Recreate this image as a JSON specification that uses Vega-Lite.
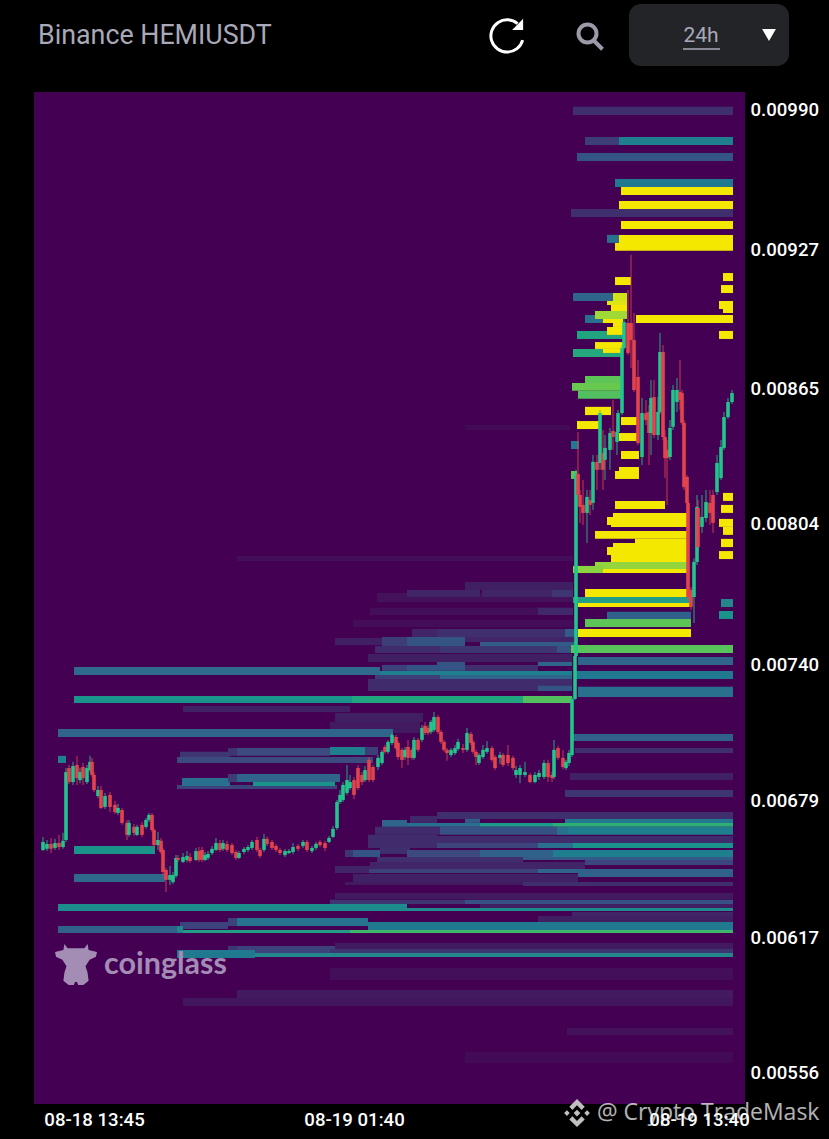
{"$schema":"https://vega.github.io/schema/vega-lite/v6.json","autosize":{"type":"none"},"padding":{"left":34,"top":92,"right":84,"bottom":35},"width":711,"height":1012,"background":"#000000","view":{"fill":"#440154","stroke":null},"config":{"axis":{"grid":false,"domain":false,"ticks":false,"title":null}},"resolve":{"axis":{"x":"independent","y":"independent"}},
"datasets":{"heat":[
{"a":406,"b":1078,"p":0.00789,"q":0.007867,"v":0.05},{"a":862,"b":1072,"p":0.00848,"q":0.008458,"v":0.03},{"a":686,"b":1078,"p":0.007723,"q":0.007683,"v":0.06},{"a":862,"b":1078,"p":0.007773,"q":0.007737,"v":0.12},{"a":746,"b":892,"p":0.007737,"q":0.007705,"v":0.15},{"a":896,"b":1036,"p":0.007737,"q":0.007705,"v":0.15},{"a":1036,"b":1078,"p":0.007737,"q":0.007705,"v":0.22},{"a":672,"b":1078,"p":0.007656,"q":0.007624,"v":0.05},{"a":1008,"b":1078,"p":0.007656,"q":0.007624,"v":0.17},{"a":638,"b":1078,"p":0.007601,"q":0.00757,"v":0.04},{"a":756,"b":806,"p":0.007561,"q":0.007525,"v":0.15},{"a":806,"b":1062,"p":0.007561,"q":0.007525,"v":0.2},{"a":1062,"b":1082,"p":0.007561,"q":0.007525,"v":0.35},{"a":602,"b":696,"p":0.00752,"q":0.007489,"v":0.12},{"a":696,"b":746,"p":0.007525,"q":0.007484,"v":0.25},{"a":746,"b":862,"p":0.007525,"q":0.007484,"v":0.33},{"a":862,"b":1082,"p":0.007525,"q":0.007502,"v":0.15},{"a":892,"b":1082,"p":0.007502,"q":0.007484,"v":0.35},{"a":682,"b":812,"p":0.007484,"q":0.007453,"v":0.18},{"a":812,"b":1046,"p":0.007484,"q":0.007453,"v":0.22},{"a":1046,"b":1076,"p":0.007484,"q":0.007453,"v":0.32},{"a":668,"b":1076,"p":0.007448,"q":0.007412,"v":0.12},{"a":696,"b":746,"p":0.007399,"q":0.007372,"v":0.27},{"a":746,"b":806,"p":0.007399,"q":0.007372,"v":0.33},{"a":806,"b":862,"p":0.007412,"q":0.007372,"v":0.33},{"a":862,"b":1008,"p":0.007399,"q":0.007372,"v":0.2},{"a":1008,"b":1076,"p":0.007412,"q":0.007394,"v":0.38},{"a":682,"b":978,"p":0.007354,"q":0.007336,"v":0.25},{"a":812,"b":1076,"p":0.007354,"q":0.007336,"v":0.38},{"a":668,"b":1076,"p":0.007336,"q":0.007281,"v":0.18},{"a":1008,"b":1076,"p":0.007305,"q":0.007281,"v":0.33},{"a":80,"b":692,"p":0.00739,"q":0.007354,"v":0.4},{"a":692,"b":1076,"p":0.007372,"q":0.007354,"v":0.47},{"a":298,"b":632,"p":0.007214,"q":0.007187,"v":0.13},{"a":602,"b":778,"p":0.007182,"q":0.007142,"v":0.12},{"a":592,"b":772,"p":0.007142,"q":0.007092,"v":0.1},{"a":80,"b":636,"p":0.007259,"q":0.007227,"v":0.55},{"a":636,"b":978,"p":0.007259,"q":0.007227,"v":0.63},{"a":978,"b":1076,"p":0.007259,"q":0.007227,"v":0.76},{"a":48,"b":718,"p":0.00711,"q":0.007074,"v":0.38},
{"a":292,"b":392,"p":0.007007,"q":0.006984,"v":0.22},{"a":388,"b":406,"p":0.007024,"q":0.006989,"v":0.22},{"a":406,"b":592,"p":0.007024,"q":0.006989,"v":0.3},{"a":592,"b":662,"p":0.007029,"q":0.006993,"v":0.47},{"a":662,"b":688,"p":0.007029,"q":0.006993,"v":0.25},{"a":286,"b":678,"p":0.006984,"q":0.006957,"v":0.3},{"a":286,"b":606,"p":0.006858,"q":0.00684,"v":0.27},{"a":296,"b":392,"p":0.006889,"q":0.006853,"v":0.42},{"a":388,"b":406,"p":0.006907,"q":0.006871,"v":0.25},{"a":406,"b":612,"p":0.006907,"q":0.006871,"v":0.38},{"a":438,"b":602,"p":0.006871,"q":0.006853,"v":0.55},{"a":80,"b":242,"p":0.006583,"q":0.006547,"v":0.55},{"a":80,"b":262,"p":0.006457,"q":0.00642,"v":0.4},{"a":48,"b":64,"p":0.006989,"q":0.006957,"v":0.47},
{"a":1078,"b":1398,"p":0.007088,"q":0.007056,"v":0.37},{"a":1082,"b":1398,"p":0.007024,"q":0.007002,"v":0.2},{"a":1072,"b":1398,"p":0.006912,"q":0.00688,"v":0.13},{"a":1062,"b":1398,"p":0.006835,"q":0.006804,"v":0.22},
{"a":806,"b":1398,"p":0.006736,"q":0.006705,"v":0.2},{"a":752,"b":806,"p":0.006718,"q":0.006687,"v":0.17},{"a":696,"b":746,"p":0.0067,"q":0.006669,"v":0.38},{"a":862,"b":892,"p":0.006705,"q":0.006687,"v":0.35},{"a":746,"b":892,"p":0.006687,"q":0.006669,"v":0.42},{"a":892,"b":1038,"p":0.006687,"q":0.006669,"v":0.58},{"a":1062,"b":1398,"p":0.006705,"q":0.006687,"v":0.45},{"a":1038,"b":1398,"p":0.006687,"q":0.006669,"v":0.68},{"a":682,"b":812,"p":0.006669,"q":0.006633,"v":0.18},{"a":812,"b":1046,"p":0.006669,"q":0.006633,"v":0.32},{"a":1046,"b":1068,"p":0.006669,"q":0.006633,"v":0.42},{"a":1068,"b":1398,"p":0.006669,"q":0.006633,"v":0.47},{"a":668,"b":806,"p":0.006633,"q":0.006574,"v":0.18},{"a":806,"b":1398,"p":0.006628,"q":0.006596,"v":0.18},{"a":806,"b":1008,"p":0.006596,"q":0.006574,"v":0.28},{"a":1008,"b":1078,"p":0.006596,"q":0.006574,"v":0.42},{"a":1078,"b":1398,"p":0.006596,"q":0.006574,"v":0.55},{"a":692,"b":752,"p":0.006574,"q":0.006547,"v":0.2},{"a":622,"b":638,"p":0.006565,"q":0.006533,"v":0.22},{"a":638,"b":692,"p":0.006565,"q":0.006533,"v":0.33},{"a":746,"b":892,"p":0.006565,"q":0.006533,"v":0.3},{"a":892,"b":1038,"p":0.006565,"q":0.006533,"v":0.37},{"a":1038,"b":1398,"p":0.006565,"q":0.006533,"v":0.47},{"a":686,"b":978,"p":0.006533,"q":0.006511,"v":0.2},{"a":978,"b":1398,"p":0.006533,"q":0.00652,"v":0.35},{"a":672,"b":1102,"p":0.006511,"q":0.006479,"v":0.15},{"a":1102,"b":1398,"p":0.00652,"q":0.006497,"v":0.28},{"a":602,"b":672,"p":0.006493,"q":0.006461,"v":0.15},{"a":670,"b":1008,"p":0.006479,"q":0.006461,"v":0.27},{"a":1008,"b":1088,"p":0.006479,"q":0.006461,"v":0.38},{"a":1088,"b":1398,"p":0.006479,"q":0.006443,"v":0.37},{"a":638,"b":1088,"p":0.006457,"q":0.00642,"v":0.13},{"a":622,"b":978,"p":0.00642,"q":0.006407,"v":0.1},{"a":978,"b":1398,"p":0.00642,"q":0.006403,"v":0.2},{"a":602,"b":1398,"p":0.006371,"q":0.006344,"v":0.1},{"a":592,"b":862,"p":0.00634,"q":0.006321,"v":0.22},{"a":862,"b":1398,"p":0.00634,"q":0.006321,"v":0.32},{"a":892,"b":1398,"p":0.006321,"q":0.006303,"v":0.12},{"a":48,"b":746,"p":0.006321,"q":0.00629,"v":0.52},{"a":746,"b":1398,"p":0.006303,"q":0.00629,"v":0.52},{"a":1076,"b":1398,"p":0.006285,"q":0.006267,"v":0.15},{"a":1008,"b":1398,"p":0.006267,"q":0.00624,"v":0.12},{"a":292,"b":388,"p":0.00624,"q":0.006209,"v":0.27},{"a":388,"b":406,"p":0.006258,"q":0.006222,"v":0.27},{"a":406,"b":668,"p":0.006258,"q":0.006222,"v":0.43},{"a":668,"b":1398,"p":0.00624,"q":0.006204,"v":0.45},{"a":48,"b":286,"p":0.006222,"q":0.006191,"v":0.37},{"a":286,"b":298,"p":0.006222,"q":0.006191,"v":0.5},{"a":298,"b":632,"p":0.006204,"q":0.006191,"v":0.6},{"a":632,"b":1398,"p":0.006204,"q":0.006191,"v":0.72},{"a":602,"b":1398,"p":0.006146,"q":0.006119,"v":0.1},{"a":406,"b":602,"p":0.006132,"q":0.006101,"v":0.27},{"a":388,"b":406,"p":0.006132,"q":0.006101,"v":0.22},{"a":592,"b":1398,"p":0.006119,"q":0.006101,"v":0.22},{"a":286,"b":442,"p":0.006114,"q":0.006078,"v":0.45},{"a":442,"b":1398,"p":0.006101,"q":0.006083,"v":0.5},{"a":592,"b":1398,"p":0.006033,"q":0.005979,"v":0.05},{"a":406,"b":1398,"p":0.005934,"q":0.005898,"v":0.1},{"a":298,"b":1398,"p":0.005898,"q":0.005862,"v":0.08},{"a":1066,"b":1398,"p":0.005763,"q":0.005731,"v":0.06},{"a":862,"b":1398,"p":0.005654,"q":0.005605,"v":0.03},
{"a":1078,"b":1398,"p":0.009914,"q":0.009877,"v":0.2},{"a":1102,"b":1170,"p":0.009778,"q":0.009742,"v":0.25},{"a":1170,"b":1398,"p":0.009778,"q":0.009742,"v":0.47},{"a":1086,"b":1398,"p":0.009706,"q":0.00967,"v":0.33},{"a":1162,"b":1398,"p":0.009589,"q":0.009553,"v":0.45},{"a":1174,"b":1398,"p":0.009553,"q":0.009517,"v":1},{"a":1170,"b":1398,"p":0.00949,"q":0.009454,"v":1},{"a":1074,"b":1398,"p":0.009454,"q":0.009418,"v":0.2},{"a":1174,"b":1398,"p":0.0094,"q":0.009364,"v":1},{"a":1146,"b":1170,"p":0.009337,"q":0.009301,"v":0.42},{"a":1170,"b":1398,"p":0.009337,"q":0.009301,"v":1},{"a":1162,"b":1398,"p":0.009301,"q":0.009265,"v":1},{"a":1162,"b":1194,"p":0.009147,"q":0.009111,"v":1},{"a":1378,"b":1398,"p":0.009165,"q":0.009129,"v":1},{"a":1374,"b":1398,"p":0.009111,"q":0.009075,"v":1},{"a":1370,"b":1398,"p":0.009039,"q":0.009003,"v":1},{"a":1378,"b":1398,"p":0.009003,"q":0.008985,"v":1},{"a":1204,"b":1398,"p":0.008976,"q":0.00894,"v":1},{"a":1370,"b":1398,"p":0.008904,"q":0.008868,"v":1},
{"a":1078,"b":1158,"p":0.009075,"q":0.009039,"v":0.38},{"a":1158,"b":1186,"p":0.009075,"q":0.009039,"v":0.95},{"a":1146,"b":1186,"p":0.009039,"q":0.009021,"v":0.97},{"a":1154,"b":1186,"p":0.009021,"q":0.008985,"v":1},{"a":1102,"b":1138,"p":0.008976,"q":0.00894,"v":0.42},{"a":1138,"b":1178,"p":0.008958,"q":0.00894,"v":1},{"a":1122,"b":1186,"p":0.008994,"q":0.008958,"v":0.88},{"a":1158,"b":1178,"p":0.00894,"q":0.008922,"v":1},{"a":1146,"b":1178,"p":0.008922,"q":0.008886,"v":1},{"a":1086,"b":1146,"p":0.008904,"q":0.008868,"v":0.63},{"a":1146,"b":1178,"p":0.008886,"q":0.008868,"v":0.63},{"a":1078,"b":1176,"p":0.008823,"q":0.008787,"v":0.65},{"a":1122,"b":1178,"p":0.008854,"q":0.008823,"v":1},{"a":1138,"b":1178,"p":0.008823,"q":0.008805,"v":1},{"a":1102,"b":1176,"p":0.008701,"q":0.00867,"v":0.78},{"a":1076,"b":1176,"p":0.00867,"q":0.008634,"v":0.8},{"a":1088,"b":1176,"p":0.008634,"q":0.008598,"v":0.76},{"a":1102,"b":1154,"p":0.008562,"q":0.008525,"v":1},{"a":1086,"b":1130,"p":0.008498,"q":0.008462,"v":1},{"a":1174,"b":1206,"p":0.008516,"q":0.00848,"v":1},{"a":1170,"b":1206,"p":0.008444,"q":0.008408,"v":1},{"a":1174,"b":1210,"p":0.008363,"q":0.008327,"v":1},{"a":1170,"b":1210,"p":0.008291,"q":0.008273,"v":1},{"a":1162,"b":1210,"p":0.008273,"q":0.008237,"v":1},{"a":1074,"b":1090,"p":0.008408,"q":0.008372,"v":0.45},{"a":1074,"b":1086,"p":0.008273,"q":0.008237,"v":0.78},
{"a":1162,"b":1262,"p":0.008138,"q":0.008102,"v":1},{"a":1158,"b":1306,"p":0.008084,"q":0.008066,"v":1},{"a":1146,"b":1306,"p":0.008066,"q":0.00803,"v":1},{"a":1154,"b":1306,"p":0.00803,"q":0.008021,"v":1},{"a":1122,"b":1306,"p":0.008003,"q":0.007967,"v":1},{"a":1202,"b":1306,"p":0.007967,"q":0.007948,"v":1},{"a":1158,"b":1306,"p":0.007948,"q":0.00793,"v":1},{"a":1146,"b":1306,"p":0.00793,"q":0.007894,"v":1},{"a":1154,"b":1306,"p":0.007894,"q":0.007858,"v":1},{"a":1122,"b":1306,"p":0.007863,"q":0.007831,"v":0.86},{"a":1078,"b":1138,"p":0.007845,"q":0.007813,"v":0.85},{"a":1138,"b":1306,"p":0.007831,"q":0.007813,"v":1},{"a":1102,"b":1310,"p":0.007741,"q":0.007705,"v":1},{"a":1078,"b":1314,"p":0.007705,"q":0.007678,"v":0.6},{"a":1088,"b":1314,"p":0.007678,"q":0.00766,"v":1},{"a":1146,"b":1314,"p":0.007638,"q":0.007606,"v":0.37},{"a":1102,"b":1314,"p":0.007606,"q":0.00757,"v":0.78},{"a":1088,"b":1314,"p":0.007561,"q":0.007525,"v":1},
{"a":1378,"b":1398,"p":0.008174,"q":0.008138,"v":1},{"a":1374,"b":1398,"p":0.00812,"q":0.008084,"v":1},{"a":1370,"b":1398,"p":0.008057,"q":0.008021,"v":1},{"a":1378,"b":1398,"p":0.008021,"q":0.007985,"v":1},{"a":1374,"b":1398,"p":0.007967,"q":0.00793,"v":1},{"a":1370,"b":1398,"p":0.007912,"q":0.007876,"v":1},{"a":1374,"b":1398,"p":0.007696,"q":0.00766,"v":0.5},{"a":1370,"b":1398,"p":0.007642,"q":0.007606,"v":0.55},{"a":1074,"b":1398,"p":0.007489,"q":0.007453,"v":0.77},{"a":1088,"b":1398,"p":0.007435,"q":0.007399,"v":0.38},{"a":1082,"b":1398,"p":0.007372,"q":0.007336,"v":0.45},{"a":1088,"b":1398,"p":0.0073,"q":0.007254,"v":0.42}
],"candles":[
{"t":18,"o":0.006565,"c":0.006601,"h":0.006623,"l":0.00656},{"t":26,"o":0.00657,"c":0.006592,"h":0.00661,"l":0.00656},{"t":34,"o":0.006592,"c":0.00657,"h":0.006619,"l":0.006551},{"t":42,"o":0.006574,"c":0.006596,"h":0.006615,"l":0.006565},{"t":50,"o":0.006596,"c":0.006578,"h":0.006633,"l":0.006565},{"t":58,"o":0.006578,"c":0.006606,"h":0.006642,"l":0.00657},{"t":64,"o":0.00661,"c":0.006916,"h":0.006934,"l":0.006601},{"t":70,"o":0.006934,"c":0.006871,"h":0.006948,"l":0.006862},{"t":78,"o":0.006871,"c":0.006943,"h":0.006962,"l":0.006858},{"t":86,"o":0.006948,"c":0.006889,"h":0.006989,"l":0.006858},{"t":92,"o":0.00688,"c":0.006916,"h":0.006934,"l":0.006866},{"t":98,"o":0.006939,"c":0.006889,"h":0.006957,"l":0.006858},{"t":106,"o":0.006871,"c":0.006934,"h":0.006948,"l":0.006862},{"t":112,"o":0.006925,"c":0.006962,"h":0.006989,"l":0.006916},{"t":116,"o":0.006962,"c":0.006903,"h":0.00698,"l":0.006894},{"t":120,"o":0.006903,"c":0.006835,"h":0.006916,"l":0.006826},{"t":128,"o":0.006808,"c":0.006835,"h":0.006853,"l":0.006799},{"t":134,"o":0.006835,"c":0.006754,"h":0.006853,"l":0.00675},{"t":142,"o":0.006759,"c":0.006808,"h":0.006822,"l":0.00675},{"t":152,"o":0.006813,"c":0.006759,"h":0.006826,"l":0.006736},{"t":162,"o":0.006768,"c":0.006736,"h":0.006786,"l":0.006727},{"t":168,"o":0.006732,"c":0.006754,"h":0.006772,"l":0.006723},{"t":176,"o":0.006745,"c":0.006687,"h":0.006754,"l":0.006678},{"t":186,"o":0.006687,"c":0.006633,"h":0.0067,"l":0.00661},{"t":190,"o":0.006633,"c":0.006687,"h":0.0067,"l":0.006624},{"t":200,"o":0.006669,"c":0.006642,"h":0.006682,"l":0.006628},{"t":206,"o":0.006633,"c":0.006669,"h":0.006678,"l":0.006628},{"t":216,"o":0.006678,"c":0.006633,"h":0.006691,"l":0.006624},{"t":224,"o":0.006669,"c":0.0067,"h":0.006709,"l":0.00666},{"t":230,"o":0.0067,"c":0.006723,"h":0.006732,"l":0.006691},{"t":236,"o":0.006723,"c":0.006655,"h":0.006732,"l":0.006646},{"t":240,"o":0.006655,"c":0.006587,"h":0.006664,"l":0.006574},{"t":248,"o":0.006587,"c":0.00661,"h":0.006646,"l":0.006565},{"t":254,"o":0.006606,"c":0.006556,"h":0.006619,"l":0.006547},{"t":258,"o":0.006565,"c":0.006466,"h":0.006574,"l":0.006452},{"t":264,"o":0.006475,"c":0.00643,"h":0.006484,"l":0.006376},{"t":272,"o":0.00643,"c":0.006452,"h":0.006493,"l":0.006407},{"t":278,"o":0.00642,"c":0.006452,"h":0.006466,"l":0.006412},{"t":284,"o":0.006448,"c":0.006529,"h":0.006542,"l":0.006438},{"t":288,"o":0.006529,"c":0.00652,"h":0.006542,"l":0.006511},{"t":298,"o":0.006511,"c":0.006533,"h":0.006551,"l":0.006506},{"t":306,"o":0.00652,"c":0.006538,"h":0.00656,"l":0.006511},{"t":312,"o":0.006533,"c":0.006515,"h":0.006551,"l":0.006506},{"t":324,"o":0.00652,"c":0.00656,"h":0.006574,"l":0.006515},{"t":330,"o":0.00656,"c":0.00652,"h":0.006578,"l":0.006511},{"t":336,"o":0.006565,"c":0.00652,"h":0.006578,"l":0.006511},{"t":342,"o":0.00652,"c":0.006542,"h":0.006556,"l":0.006515},{"t":348,"o":0.006529,"c":0.006547,"h":0.00656,"l":0.00652},{"t":356,"o":0.006551,"c":0.00657,"h":0.006583,"l":0.006542},{"t":364,"o":0.006565,"c":0.006596,"h":0.006619,"l":0.00656},{"t":372,"o":0.006596,"c":0.006565,"h":0.00661,"l":0.006556},{"t":378,"o":0.00657,"c":0.006596,"h":0.00661,"l":0.00656},{"t":386,"o":0.006592,"c":0.006565,"h":0.006606,"l":0.006556},{"t":396,"o":0.006587,"c":0.006551,"h":0.006596,"l":0.006542},{"t":404,"o":0.006556,"c":0.006529,"h":0.006565,"l":0.00652},{"t":410,"o":0.006529,"c":0.006551,"h":0.00656,"l":0.006524},{"t":420,"o":0.006556,"c":0.00657,"h":0.006578,"l":0.006547},{"t":428,"o":0.006565,"c":0.006578,"h":0.006587,"l":0.006556},{"t":436,"o":0.006574,"c":0.006601,"h":0.00661,"l":0.006565},{"t":446,"o":0.00661,"c":0.006565,"h":0.006624,"l":0.006556},{"t":452,"o":0.006565,"c":0.006538,"h":0.006574,"l":0.006529},{"t":460,"o":0.006565,"c":0.006615,"h":0.006637,"l":0.006556},{"t":466,"o":0.006615,"c":0.006592,"h":0.006624,"l":0.006583},{"t":476,"o":0.006601,"c":0.006574,"h":0.00661,"l":0.006565},{"t":484,"o":0.006583,"c":0.006565,"h":0.006592,"l":0.006556},{"t":492,"o":0.006565,"c":0.006551,"h":0.006574,"l":0.006542},{"t":502,"o":0.006542,"c":0.00656,"h":0.006569,"l":0.006533},{"t":510,"o":0.006551,"c":0.00656,"h":0.006569,"l":0.006547},{"t":518,"o":0.006556,"c":0.006578,"h":0.006596,"l":0.006547},{"t":528,"o":0.006583,"c":0.00657,"h":0.006592,"l":0.00656},{"t":538,"o":0.006583,"c":0.006601,"h":0.00661,"l":0.006574},{"t":546,"o":0.006601,"c":0.006565,"h":0.00661,"l":0.006556},{"t":556,"o":0.00656,"c":0.006574,"h":0.006583,"l":0.006551},{"t":564,"o":0.006574,"c":0.006592,"h":0.006601,"l":0.006565},{"t":572,"o":0.006601,"c":0.006587,"h":0.00661,"l":0.006578},{"t":582,"o":0.006596,"c":0.006574,"h":0.006606,"l":0.00656},{"t":590,"o":0.006601,"c":0.006619,"h":0.006628,"l":0.006596},{"t":598,"o":0.006624,"c":0.00666,"h":0.006673,"l":0.006619},{"t":606,"o":0.006664,"c":0.006781,"h":0.00679,"l":0.006655},{"t":612,"o":0.006781,"c":0.006813,"h":0.006835,"l":0.006772},{"t":618,"o":0.00679,"c":0.006858,"h":0.006871,"l":0.006781},{"t":626,"o":0.006822,"c":0.00688,"h":0.006948,"l":0.006813},{"t":632,"o":0.006844,"c":0.006871,"h":0.006903,"l":0.006835},{"t":640,"o":0.00688,"c":0.006813,"h":0.006894,"l":0.006794},{"t":648,"o":0.006934,"c":0.006844,"h":0.006948,"l":0.006835},{"t":656,"o":0.006903,"c":0.006871,"h":0.006916,"l":0.006858},{"t":662,"o":0.00688,"c":0.006925,"h":0.006943,"l":0.006871},{"t":670,"o":0.006971,"c":0.00688,"h":0.006984,"l":0.006871},{"t":678,"o":0.006939,"c":0.00688,"h":0.006948,"l":0.006871},{"t":688,"o":0.006939,"c":0.00698,"h":0.006993,"l":0.006925},{"t":696,"o":0.006957,"c":0.007007,"h":0.007016,"l":0.006948},{"t":702,"o":0.007029,"c":0.007007,"h":0.007038,"l":0.006998},{"t":708,"o":0.007007,"c":0.007052,"h":0.007061,"l":0.006998},{"t":716,"o":0.007047,"c":0.007083,"h":0.007092,"l":0.007038},{"t":724,"o":0.007074,"c":0.007024,"h":0.007083,"l":0.007016},{"t":728,"o":0.007047,"c":0.006984,"h":0.007056,"l":0.006971},{"t":736,"o":0.007016,"c":0.006971,"h":0.007024,"l":0.006934},{"t":742,"o":0.006984,"c":0.007016,"h":0.007029,"l":0.006971},{"t":748,"o":0.007029,"c":0.00698,"h":0.007061,"l":0.006948},{"t":756,"o":0.007016,"c":0.00698,"h":0.007024,"l":0.006971},{"t":760,"o":0.00698,"c":0.007061,"h":0.007074,"l":0.006971},{"t":768,"o":0.007061,"c":0.007016,"h":0.00707,"l":0.007007},{"t":776,"o":0.007061,"c":0.007115,"h":0.007128,"l":0.007052},{"t":782,"o":0.007124,"c":0.007092,"h":0.007142,"l":0.007083},{"t":788,"o":0.007115,"c":0.007092,"h":0.007128,"l":0.007083},{"t":794,"o":0.007097,"c":0.007142,"h":0.007151,"l":0.007088},{"t":800,"o":0.007106,"c":0.007164,"h":0.007187,"l":0.007097},{"t":808,"o":0.007164,"c":0.007097,"h":0.007173,"l":0.007088},{"t":814,"o":0.007097,"c":0.007052,"h":0.007106,"l":0.007043},{"t":820,"o":0.007052,"c":0.007016,"h":0.007061,"l":0.007007},{"t":826,"o":0.007016,"c":0.007002,"h":0.007024,"l":0.006967},{"t":834,"o":0.006993,"c":0.007016,"h":0.007024,"l":0.006984},{"t":842,"o":0.007002,"c":0.007024,"h":0.007038,"l":0.006993},{"t":848,"o":0.00702,"c":0.007052,"h":0.007066,"l":0.007011},{"t":858,"o":0.007024,"c":0.007016,"h":0.007043,"l":0.007002},{"t":866,"o":0.007016,"c":0.007092,"h":0.007115,"l":0.007007},{"t":874,"o":0.007088,"c":0.007047,"h":0.007097,"l":0.007038},{"t":878,"o":0.007052,"c":0.007007,"h":0.007061,"l":0.006998},{"t":884,"o":0.007007,"c":0.006984,"h":0.007016,"l":0.006948},{"t":890,"o":0.006957,"c":0.006993,"h":0.007002,"l":0.006948},{"t":898,"o":0.006984,"c":0.007016,"h":0.007038,"l":0.006975},{"t":906,"o":0.007007,"c":0.007024,"h":0.007056,"l":0.006998},{"t":916,"o":0.007024,"c":0.006971,"h":0.007033,"l":0.006962},{"t":922,"o":0.006984,"c":0.006934,"h":0.006993,"l":0.006925},{"t":932,"o":0.00698,"c":0.006993,"h":0.007007,"l":0.006952},{"t":938,"o":0.006993,"c":0.006948,"h":0.007002,"l":0.006939},{"t":948,"o":0.006993,"c":0.006957,"h":0.007038,"l":0.006943},{"t":958,"o":0.00698,"c":0.006934,"h":0.006989,"l":0.006925},{"t":964,"o":0.006903,"c":0.006925,"h":0.006943,"l":0.006889},{"t":972,"o":0.006903,"c":0.006934,"h":0.006948,"l":0.006866},{"t":982,"o":0.006903,"c":0.006916,"h":0.006962,"l":0.006894},{"t":992,"o":0.006903,"c":0.006871,"h":0.006912,"l":0.006866},{"t":1002,"o":0.006871,"c":0.006903,"h":0.006916,"l":0.006866},{"t":1010,"o":0.006894,"c":0.006912,"h":0.006925,"l":0.00688},{"t":1020,"o":0.006894,"c":0.006957,"h":0.006971,"l":0.006885},{"t":1028,"o":0.006957,"c":0.006894,"h":0.006971,"l":0.006871},{"t":1036,"o":0.006903,"c":0.006889,"h":0.006916,"l":0.006871},{"t":1040,"o":0.006894,"c":0.007016,"h":0.007061,"l":0.006885},{"t":1048,"o":0.007024,"c":0.00698,"h":0.007033,"l":0.006971},{"t":1058,"o":0.00698,"c":0.006939,"h":0.007016,"l":0.00693},{"t":1064,"o":0.006934,"c":0.006962,"h":0.006971,"l":0.006925},{"t":1070,"o":0.006957,"c":0.007002,"h":0.007016,"l":0.006943},{"t":1076,"o":0.006993,"c":0.007246,"h":0.007255,"l":0.006984},{"t":1082,"o":0.007246,"c":0.007439,"h":0.007453,"l":0.007241},{"t":1084,"o":0.007439,"c":0.00826,"h":0.008278,"l":0.007435},
{"t":1088,"o":0.00826,"c":0.008165,"h":0.008449,"l":0.008156},{"t":1092,"o":0.008165,"c":0.008111,"h":0.008187,"l":0.008039},{"t":1098,"o":0.00812,"c":0.008084,"h":0.008232,"l":0.00803},{"t":1106,"o":0.008084,"c":0.008156,"h":0.008187,"l":0.007948},{"t":1112,"o":0.008142,"c":0.00812,"h":0.008187,"l":0.008075},{"t":1118,"o":0.008129,"c":0.008314,"h":0.008345,"l":0.008097},{"t":1126,"o":0.008314,"c":0.008278,"h":0.008345,"l":0.008187},{"t":1132,"o":0.008309,"c":0.008534,"h":0.008548,"l":0.008278},{"t":1138,"o":0.008354,"c":0.008278,"h":0.008458,"l":0.008187},{"t":1142,"o":0.008323,"c":0.008377,"h":0.008435,"l":0.008232},{"t":1152,"o":0.008368,"c":0.008444,"h":0.008467,"l":0.008278},{"t":1158,"o":0.008453,"c":0.008426,"h":0.008593,"l":0.008368},{"t":1166,"o":0.008404,"c":0.008449,"h":0.008467,"l":0.008345},{"t":1168,"o":0.008449,"c":0.008534,"h":0.008548,"l":0.00844},{"t":1176,"o":0.008534,"c":0.008827,"h":0.008841,"l":0.008525},{"t":1180,"o":0.008827,"c":0.008944,"h":0.008963,"l":0.008818},{"t":1188,"o":0.00894,"c":0.008805,"h":0.009089,"l":0.008796},{"t":1194,"o":0.00894,"c":0.008863,"h":0.009247,"l":0.008737},{"t":1200,"o":0.008863,"c":0.008638,"h":0.008985,"l":0.008629},{"t":1208,"o":0.008697,"c":0.008399,"h":0.008773,"l":0.00839},{"t":1216,"o":0.008336,"c":0.008534,"h":0.008602,"l":0.0083},{"t":1224,"o":0.008534,"c":0.008503,"h":0.008593,"l":0.00848},{"t":1230,"o":0.008539,"c":0.008444,"h":0.00857,"l":0.0083},{"t":1234,"o":0.008444,"c":0.008602,"h":0.008683,"l":0.008345},{"t":1240,"o":0.008606,"c":0.008435,"h":0.008683,"l":0.008422},{"t":1248,"o":0.008435,"c":0.008539,"h":0.008606,"l":0.008413},{"t":1252,"o":0.008539,"c":0.008809,"h":0.008895,"l":0.00853},{"t":1258,"o":0.008809,"c":0.008426,"h":0.008841,"l":0.008413},{"t":1262,"o":0.008426,"c":0.008331,"h":0.008458,"l":0.008241},{"t":1266,"o":0.008368,"c":0.008331,"h":0.008413,"l":0.00812},{"t":1272,"o":0.008336,"c":0.008467,"h":0.008503,"l":0.008323},{"t":1278,"o":0.008472,"c":0.008638,"h":0.00866,"l":0.008458},{"t":1286,"o":0.008584,"c":0.008638,"h":0.008692,"l":0.008539},{"t":1292,"o":0.008629,"c":0.008593,"h":0.008773,"l":0.008548},{"t":1296,"o":0.008624,"c":0.00849,"h":0.008638,"l":0.00848},{"t":1300,"o":0.00849,"c":0.0082,"h":0.008503,"l":0.008187},{"t":1306,"o":0.008246,"c":0.008129,"h":0.008255,"l":0.00812},{"t":1308,"o":0.008129,"c":0.007705,"h":0.008142,"l":0.007692},{"t":1314,"o":0.007737,"c":0.00766,"h":0.00775,"l":0.007646},{"t":1320,"o":0.007705,"c":0.007863,"h":0.00788,"l":0.007588},{"t":1326,"o":0.007863,"c":0.008111,"h":0.008165,"l":0.007849},{"t":1328,"o":0.008106,"c":0.00793,"h":0.008142,"l":0.007903},{"t":1336,"o":0.008021,"c":0.008066,"h":0.008165,"l":0.007994},{"t":1344,"o":0.008061,"c":0.008133,"h":0.008187,"l":0.008043},{"t":1352,"o":0.008129,"c":0.008084,"h":0.008187,"l":0.00803},{"t":1358,"o":0.008165,"c":0.008039,"h":0.008187,"l":0.007994},{"t":1366,"o":0.008178,"c":0.008309,"h":0.008345,"l":0.008165},{"t":1374,"o":0.008241,"c":0.008381,"h":0.008413,"l":0.008232},{"t":1380,"o":0.008377,"c":0.008516,"h":0.008539,"l":0.008368},{"t":1388,"o":0.008516,"c":0.008584,"h":0.008602,"l":0.008507},{"t":1396,"o":0.008584,"c":0.008624,"h":0.008638,"l":0.008575}
]},
"layer":[
{"data":{"name":"heat"},"mark":{"type":"rect"},"encoding":{
"x":{"field":"a","type":"quantitative","scale":{"domain":[0,1422],"nice":false,"zero":false,"padding":0},"axis":{"values":[120,640,1330],"labelExpr":"datum.value==120?'08-18 13:45':datum.value==640?'08-19 01:40':'08-19 13:40'","labelColor":"#ffffff","labelFont":"Roboto","labelFontSize":18.6,"labelFontWeight":500,"labelPadding":6,"labelBound":false,"labelFlush":false,"labelOverlap":false,"orient":"bottom"}},
"x2":{"field":"b"},
"y":{"field":"p","type":"quantitative","scale":{"domain":[0.00542,0.009981],"nice":false,"zero":false,"padding":0},"axis":{"orient":"right","values":[0.0099,0.00927,0.008646,0.008036,0.0074,0.00679,0.00617,0.00556],"format":".5f","labelColor":"#ffffff","labelFont":"Roboto","labelFontSize":18.6,"labelFontWeight":500,"labelPadding":5,"labelOverlap":false,"labelBound":false}},
"y2":{"field":"q"},
"color":{"field":"v","type":"quantitative","legend":null,"scale":{"type":"linear","domain":[0,0.1,0.2,0.3,0.4,0.5,0.6,0.7,0.8,0.9,1],"range":["#440154","#421a60","#3f2f6f","#3c4a80","#2f6a8c","#23878c","#239e85","#35b26f","#69c94f","#aedc2d","#f5e800"]}}}},
{"data":{"name":"candles"},"mark":{"type":"rule","strokeWidth":1.2,"opacity":0.7},"encoding":{"x":{"field":"t","type":"quantitative","axis":null},"y":{"field":"h","type":"quantitative","axis":null},"y2":{"field":"l"},"color":{"condition":{"test":"datum.c>=datum.o","value":"#22c58b"},"value":"#e2444d"}}},
{"data":{"name":"candles"},"mark":{"type":"bar","size":3.6},"encoding":{"x":{"field":"t","type":"quantitative","axis":null},"y":{"field":"o","type":"quantitative","axis":null},"y2":{"field":"c"},"color":{"condition":{"test":"datum.c>=datum.o","value":"#22c58b"},"value":"#e2444d"}}},
{"data":{"values":[{"a":1190,"b":1510,"p":0.010378,"q":0.010098}]},"mark":{"type":"rect","fill":"#232428","cornerRadius":12},"encoding":{"x":{"field":"a","type":"quantitative","axis":null},"x2":{"field":"b"},"y":{"field":"p","type":"quantitative","axis":null},"y2":{"field":"q"}}},
{"data":{"values":[{"a":1298,"b":1372,"p":0.010175}]},"mark":{"type":"rule","stroke":"#a9a9b8","strokeWidth":1.5},"encoding":{"x":{"field":"a","type":"quantitative","axis":null},"x2":{"field":"b"},"y":{"field":"p","type":"quantitative","axis":null}}},
{"data":{"values":[{"t":8,"p":0.010233,"s":"Binance HEMIUSDT"}]},"mark":{"type":"text","align":"left","baseline":"middle","font":"Roboto","fontSize":26.8,"fontWeight":400,"fill":"#a9a9b8"},"encoding":{"x":{"field":"t","type":"quantitative","axis":null},"y":{"field":"p","type":"quantitative","axis":null},"text":{"field":"s"}}},
{"data":{"values":[{"t":1334,"p":0.010233,"s":"24h"}]},"mark":{"type":"text","align":"center","baseline":"middle","font":"Roboto","fontSize":21,"fill":"#a9a9b8"},"encoding":{"x":{"field":"t","type":"quantitative","axis":null},"y":{"field":"p","type":"quantitative","axis":null},"text":{"field":"s"}}},
{"data":{"values":[{"t":1470,"p":0.010238}]},"mark":{"type":"point","shape":"triangle-down","filled":true,"fill":"#ffffff","size":190,"opacity":1},"encoding":{"x":{"field":"t","type":"quantitative","axis":null},"y":{"field":"p","type":"quantitative","axis":null}}},
{"data":{"values":[{"t":946,"p":0.010234}]},"mark":{"type":"point","shape":"M.62 -.72A.95 .95 0 1 0 .92 .25","filled":false,"stroke":"#ffffff","strokeWidth":3,"size":1156,"opacity":1},"encoding":{"x":{"field":"t","type":"quantitative","axis":null},"y":{"field":"p","type":"quantitative","axis":null}}},
{"data":{"values":[{"t":946,"p":0.010234}]},"mark":{"type":"point","shape":"M.95 -1L.95 -.35L.3 -.35Z","filled":true,"fill":"#ffffff","size":1156,"opacity":1},"encoding":{"x":{"field":"t","type":"quantitative","axis":null},"y":{"field":"p","type":"quantitative","axis":null}}},
{"data":{"values":[{"t":1110,"p":0.010238}]},"mark":{"type":"point","shape":"M.5 -.1A.6 .6 0 1 1 -.7 -.1A.6 .6 0 1 1 .5 -.1M.35 .4L.9 .95","filled":false,"stroke":"#9a9aa8","strokeWidth":4,"size":900,"opacity":1},"encoding":{"x":{"field":"t","type":"quantitative","axis":null},"y":{"field":"p","type":"quantitative","axis":null}}},
{"data":{"values":[{"t":84,"p":0.006046}]},"mark":{"type":"point","shape":"M-.55 -1L-.4 -.8L.4 -.8L.55 -1L.6 -.72L1 -.62L.95 -.4L.65 -.25L.45 .05L.55 .35L.6 .75L.35 .95L.1 .95L.05 .8L-.05 .8L-.1 .95L-.35 .95L-.6 .75L-.55 .35L-.45 .05L-.65 -.25L-.95 -.4L-1 -.62L-.6 -.72Z","filled":true,"fill":"#a48db5","size":1764,"opacity":1},"encoding":{"x":{"field":"t","type":"quantitative","axis":null},"y":{"field":"p","type":"quantitative","axis":null}}},
{"data":{"values":[{"t":140,"p":0.006046,"s":"coinglass"}]},"mark":{"type":"text","align":"left","baseline":"middle","font":"Lato","fontSize":30.5,"fontWeight":700,"fill":"#a48db5"},"encoding":{"x":{"field":"t","type":"quantitative","axis":null},"y":{"field":"p","type":"quantitative","axis":null},"text":{"field":"s"}}},
{"data":{"values":[{"t":1086,"p":0.005379}]},"mark":{"type":"point","shape":"M0 -1L.55 -.45L.33 -.23L0 -.56L-.33 -.23L-.55 -.45ZM0 1L.55 .45L.33 .23L0 .56L-.33 .23L-.55 .45ZM-.72 -.2L-.52 0L-.72 .2L-.92 0ZM.72 -.2L.92 0L.72 .2L.52 0ZM0 -.24L.24 0L0 .24L-.24 0Z","filled":true,"fill":"#c0c0c0","size":784,"opacity":1},"encoding":{"x":{"field":"t","type":"quantitative","axis":null},"y":{"field":"p","type":"quantitative","axis":null}}},
{"data":{"values":[{"t":1126,"p":0.005379,"s":"@ Crypto TradeMask"}]},"mark":{"type":"text","align":"left","baseline":"middle","font":"Open Sans","fontSize":23,"fill":"#ffffff","opacity":0.7},"encoding":{"x":{"field":"t","type":"quantitative","axis":null},"y":{"field":"p","type":"quantitative","axis":null},"text":{"field":"s"}}}
]}
